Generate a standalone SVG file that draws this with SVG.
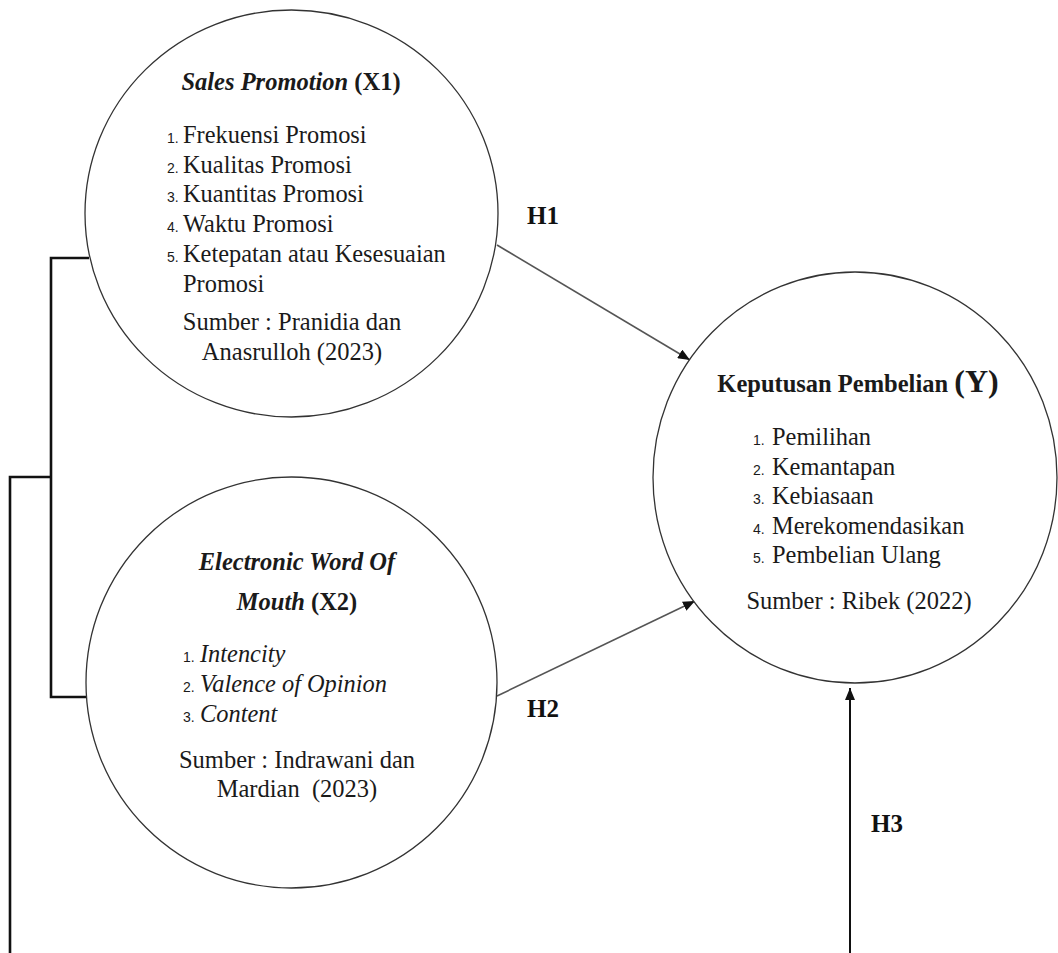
<svg xmlns="http://www.w3.org/2000/svg" width="1058" height="953" viewBox="0 0 1058 953">
<style>
.node{fill:#fff;stroke:#333;stroke-width:1.3}
.t{font-family:"Liberation Serif","Times New Roman",serif;fill:#1a1a1a}
.title{font-size:24.5px;font-weight:bold}
.item{font-size:24.4px}
.num{font-family:"Liberation Sans",Arial,sans-serif;font-size:14px;fill:#1a1a1a}
.src{font-size:24.5px;text-anchor:middle}
.bracket{fill:none;stroke:#111;stroke-width:2.6}
.arrow{fill:none;stroke:#555;stroke-width:1.6}
.arrow3{fill:none;stroke:#111;stroke-width:2}
.h{font-family:"Liberation Serif","Times New Roman",serif;font-size:25px;font-weight:bold;fill:#111}
</style>
<defs>
<marker id="ah" markerUnits="userSpaceOnUse" markerWidth="12" markerHeight="10" refX="12" refY="5" orient="auto">
<path d="M0,0 L12,5 L0,10 z" fill="#111"/>
</marker>
</defs>
<rect width="1058" height="953" fill="#fff"/>

<g id="connectors">
<path class="bracket" d="M89,258 H51 V697 H87"/>
<path class="bracket" d="M51,477 H10 V953"/>
<line class="arrow" x1="497" y1="245" x2="690" y2="360" marker-end="url(#ah)"/>
<line class="arrow" x1="497" y1="696" x2="695" y2="601" marker-end="url(#ah)"/>
<line class="arrow3" x1="850" y1="953" x2="850" y2="688" marker-end="url(#ah)"/>
<text class="h" x="527" y="224">H1</text>
<text class="h" x="527" y="717">H2</text>
<text class="h" x="871" y="832">H3</text>
</g>

<g id="x1">
<ellipse class="node" cx="291.5" cy="213.5" rx="206.5" ry="203.5"/>
<text class="t title" x="291" y="90" text-anchor="middle"><tspan font-style="italic">Sales Promotion</tspan> (X1)</text>
<text class="num" x="167" y="143">1.</text><text class="t item" x="183" y="143">Frekuensi Promosi</text>
<text class="num" x="167" y="173">2.</text><text class="t item" x="183" y="173">Kualitas Promosi</text>
<text class="num" x="167" y="202">3.</text><text class="t item" x="183" y="202">Kuantitas Promosi</text>
<text class="num" x="167" y="232">4.</text><text class="t item" x="183" y="232">Waktu Promosi</text>
<text class="num" x="167" y="262">5.</text><text class="t item" x="183" y="262">Ketepatan atau Kesesuaian</text>
<text class="t item" x="183" y="292">Promosi</text>
<text class="t src" x="292" y="330">Sumber : Pranidia dan</text>
<text class="t src" x="292" y="360">Anasrulloh (2023)</text>
</g>

<g id="x2">
<ellipse class="node" cx="291.5" cy="682.5" rx="205.5" ry="205.5"/>
<text class="t title" x="297" y="570" text-anchor="middle" font-style="italic">Electronic Word Of</text>
<text class="t title" x="297" y="610" text-anchor="middle"><tspan font-style="italic">Mouth</tspan> (X2)</text>
<text class="num" x="183" y="662">1.</text><text class="t item" x="200" y="662" font-style="italic">Intencity</text>
<text class="num" x="183" y="692">2.</text><text class="t item" x="200" y="692" font-style="italic">Valence of Opinion</text>
<text class="num" x="183" y="722">3.</text><text class="t item" x="200" y="722" font-style="italic">Content</text>
<text class="t src" x="297" y="768">Sumber : Indrawani dan</text>
<text class="t src" x="297" y="797" style="white-space:pre">Mardian  (2023)</text>
</g>

<g id="y">
<ellipse class="node" cx="855" cy="477.5" rx="202" ry="205.5"/>
<text class="t title" x="858" y="392" text-anchor="middle">Keputusan Pembelian <tspan font-size="32px">(Y)</tspan></text>
<text class="num" x="753" y="445">1.</text><text class="t item" x="772" y="445">Pemilihan</text>
<text class="num" x="753" y="475">2.</text><text class="t item" x="772" y="475">Kemantapan</text>
<text class="num" x="753" y="504">3.</text><text class="t item" x="772" y="504">Kebiasaan</text>
<text class="num" x="753" y="534">4.</text><text class="t item" x="772" y="534">Merekomendasikan</text>
<text class="num" x="753" y="563">5.</text><text class="t item" x="772" y="563">Pembelian Ulang</text>
<text class="t src" x="859" y="609">Sumber : Ribek (2022)</text>
</g>
</svg>
